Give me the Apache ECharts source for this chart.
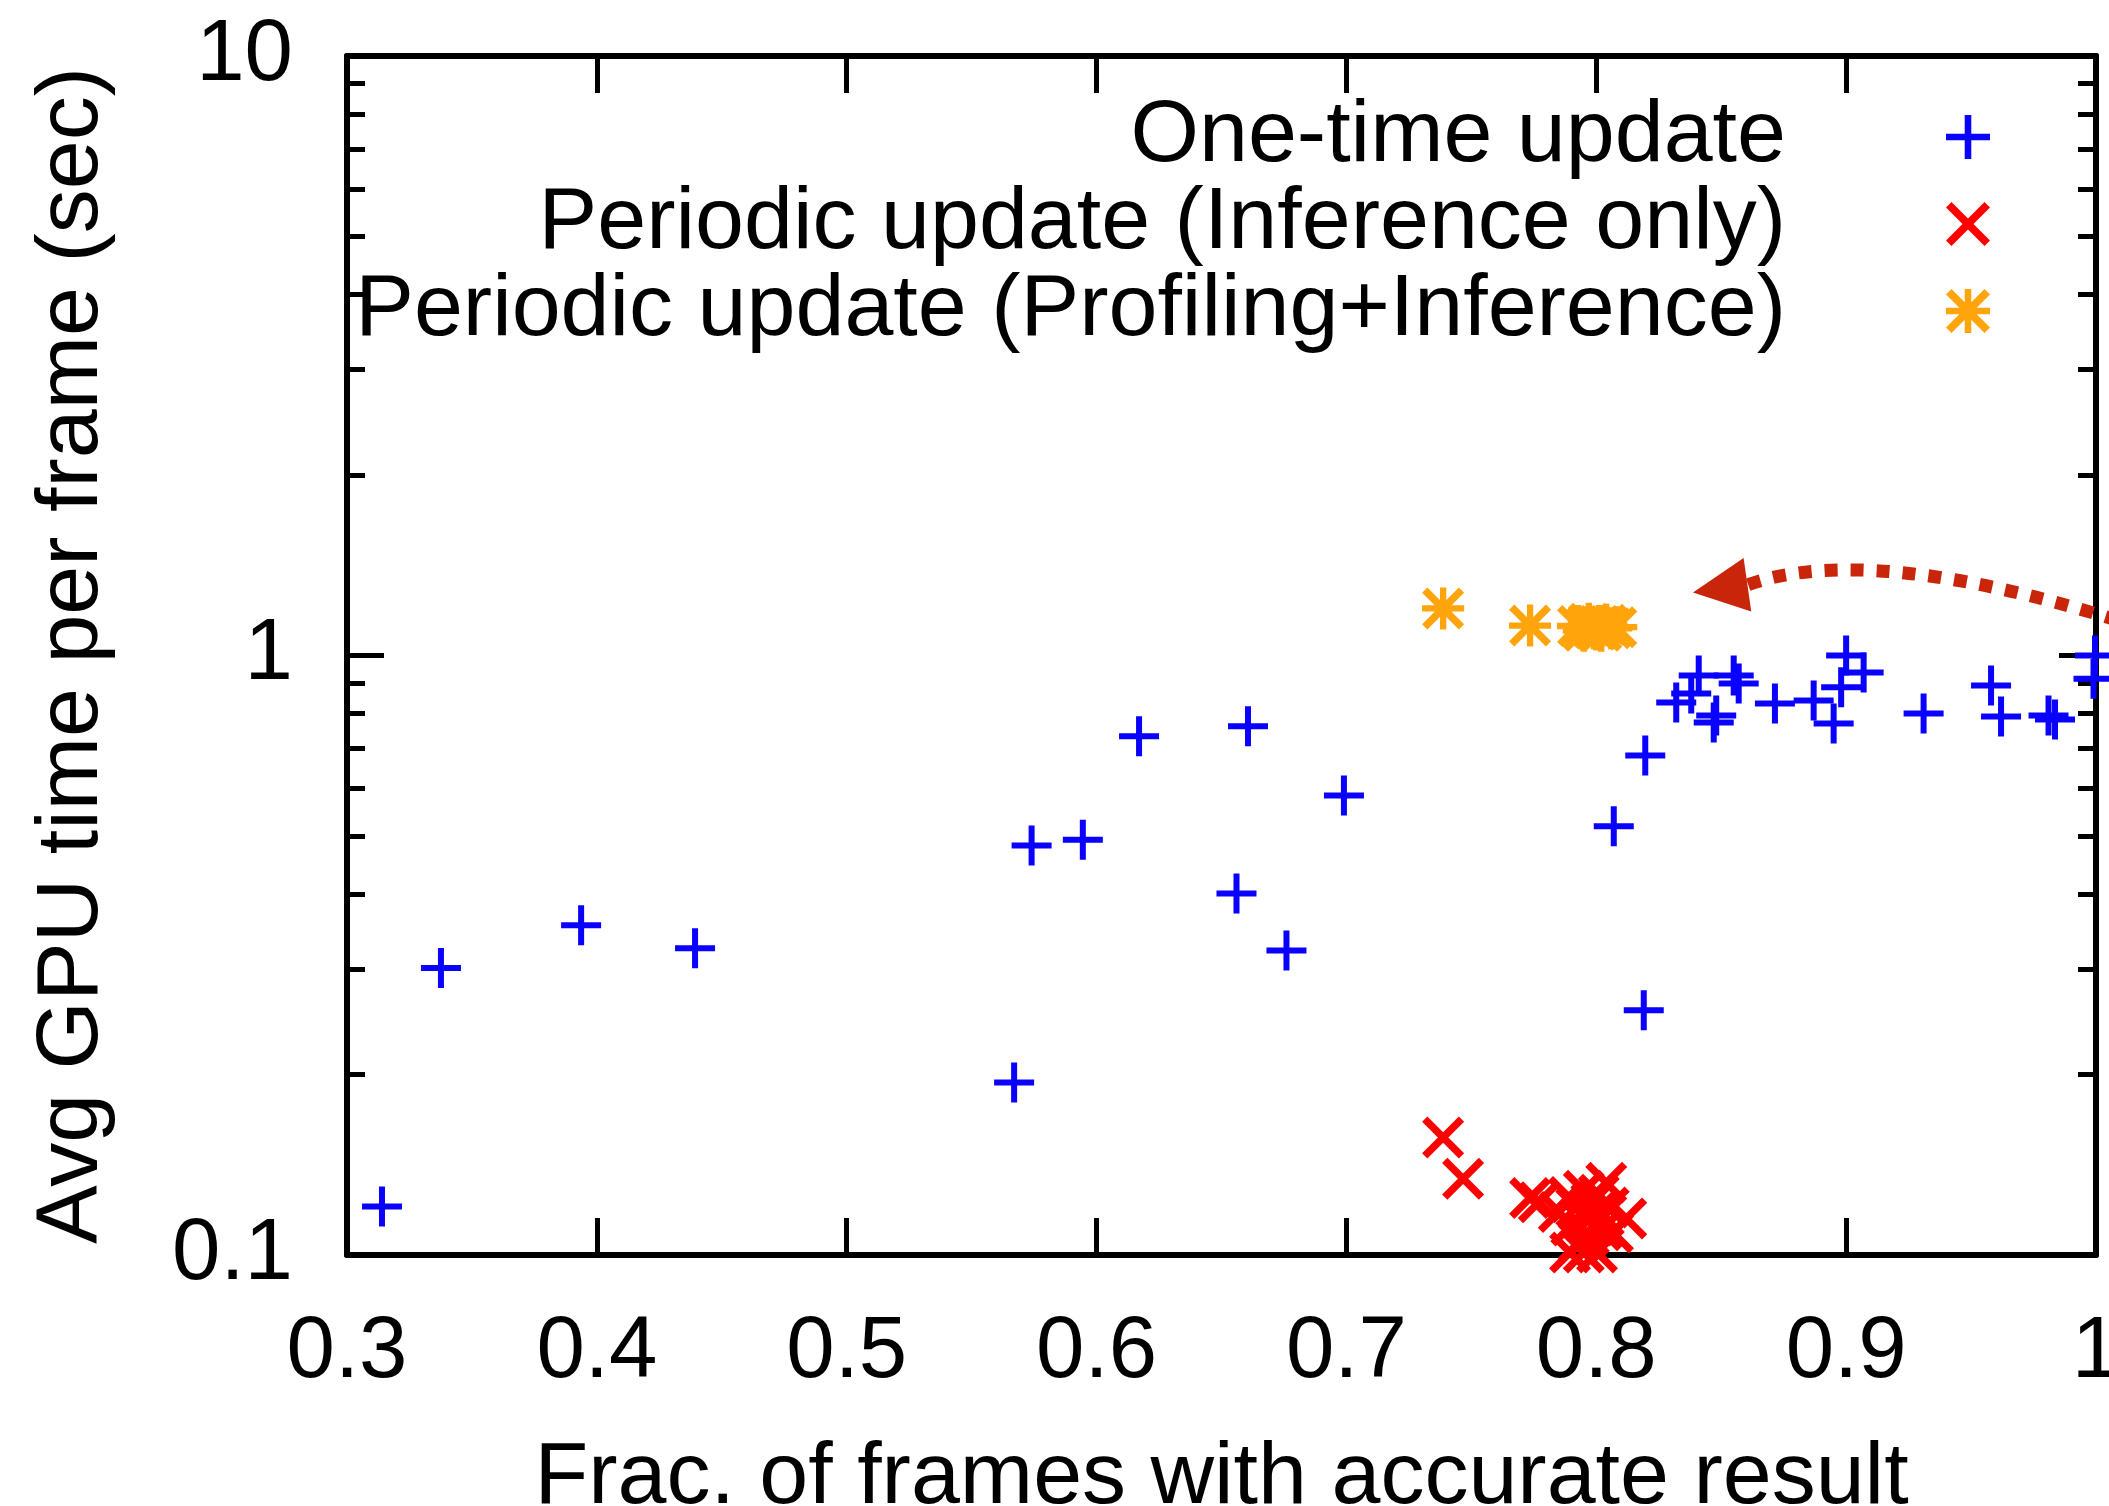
<!DOCTYPE html>
<html><head><meta charset="utf-8">
<script src="https://cdn.jsdelivr.net/npm/echarts@6/dist/echarts.min.js"></script>
<style>html,body{margin:0;padding:0;background:#fff;} #c{width:2109px;height:1506px;}</style>
</head><body><div id="c"></div>
<script>
// ---------- data ----------
const seriesNames = ['One-time update', 'Periodic update (Inference only)', 'Periodic update (Profiling+Inference)'];
const xTickValues = [0.3, 0.4, 0.5, 0.6, 0.7, 0.8, 0.9, 1.0];
const yTickValues = [0.1, 1, 10];
const yMinorTicks = [0.2, 0.3, 0.4, 0.5, 0.6, 0.7, 0.8, 0.9, 2, 3, 4, 5, 6, 7, 8, 9];
const xAxisTitle = 'Frac. of frames with accurate result';
const yAxisTitle = 'Avg GPU time per frame (sec)';

const oneTimeUpdate = [
  [0.314, 0.1205], [0.3376, 0.301], [0.3937, 0.355], [0.4393, 0.325], [0.567, 0.194],
  [0.574, 0.482], [0.5945, 0.493], [0.617, 0.733], [0.656, 0.401], [0.6606, 0.762],
  [0.676, 0.322], [0.699, 0.584], [0.807, 0.519], [0.819, 0.256], [0.8196, 0.681],
  [0.832, 0.835], [0.838, 0.864], [0.841, 0.926], [0.847, 0.773], [0.848, 0.794],
  [0.855, 0.926], [0.857, 0.898], [0.8715, 0.832], [0.887, 0.841], [0.895, 0.770],
  [0.898, 0.885], [0.900, 1.0], [0.907, 0.937], [0.931, 0.800], [0.958, 0.891],
  [0.962, 0.791], [0.981, 0.794], [0.9836, 0.782], [0.9996, 1.0], [0.999, 0.915]
];
const periodicInference = [
  [0.7387, 0.157], [0.7467, 0.134], [0.7735, 0.1245], [0.777, 0.1225], [0.785, 0.118],
  [0.789, 0.125], [0.790, 0.112], [0.792, 0.120], [0.793, 0.105], [0.795, 0.128],
  [0.796, 0.115], [0.797, 0.108], [0.798, 0.122], [0.799, 0.112], [0.800, 0.118],
  [0.8003, 0.101], [0.801, 0.126], [0.802, 0.110], [0.804, 0.132], [0.8067, 0.109],
  [0.812, 0.115], [0.7895, 0.101], [0.795, 0.101], [0.805, 0.120], [0.803, 0.116]
];
const periodicProfiling = [
  [0.7387, 1.198], [0.7735, 1.122], [0.7927, 1.12], [0.795, 1.10], [0.797, 1.13],
  [0.799, 1.11], [0.801, 1.12], [0.802, 1.10], [0.804, 1.125], [0.806, 1.11],
  [0.808, 1.115], [0.796, 1.115], [0.800, 1.105]
];
// annotation arrow (data coordinates): start, control, arrowhead base, tip
const arrowStart = [1.0088, 1.144];
const arrowControl = [0.9091, 1.543];
const arrowBase = [0.8607, 1.313];
const arrowTip = [0.8387, 1.274];

// ---------- styles ----------
const FONT = '"Liberation Sans", Arial, Helvetica, sans-serif';
const PLUS = 'path://M17,0H23V17H40V23H23V40H17V23H0V17H17Z';
const CROSS = 'path://M0,5L5,0L40,35L35,40Z M35,0L40,5L5,40L0,35Z';
const STAR = 'path://M17,0H23V17H40V23H23V40H17V23H0V17H17Z M0,5L5,0L40,35L35,40Z M35,0L40,5L5,40L0,35Z';
const axisLine = {show: true, onZero: false, lineStyle: {color: '#000', width: 6}};
const majorTick = {show: true, inside: true, length: 37, lineStyle: {color: '#000', width: 5}};
const minorTick = {show: true, inside: true, length: 18, lineStyle: {color: '#000', width: 5},
                   customValues: yMinorTicks.map(v => Math.log10(v))};

const chart = echarts.init(document.getElementById('c'), null, {renderer: 'canvas'});
chart.setOption({
  animation: false,
  backgroundColor: '#fff',
  grid: {left: 347, right: 13, top: 56, bottom: 251, containLabel: false, outerBoundsMode: 'none'},
  legend: {
    orient: 'vertical', align: 'right', right: 119, top: 93, padding: 0,
    itemWidth: 44, itemHeight: 44, itemGap: -1, selectedMode: false,
    textStyle: {fontSize: 88, fontFamily: FONT, color: '#000', padding: [0, 155, 0, 0]},
    data: seriesNames
  },
  xAxis: [
    {type: 'value', position: 'bottom', min: 0.3, max: 1.0, interval: 0.1,
     axisLine: axisLine, axisTick: majorTick, splitLine: {show: false},
     axisLabel: {fontSize: 87, fontFamily: FONT, color: '#000', margin: 55,
                 formatter: v => String(xTickValues.find(t => Math.abs(t - v) < 1e-6) ?? v)},
     name: xAxisTitle, nameLocation: 'middle', nameGap: 180,
     nameTextStyle: {fontSize: 88, fontFamily: FONT, color: '#000'}},
    {type: 'value', position: 'top', min: 0.3, max: 1.0, interval: 0.1,
     axisLine: axisLine, axisTick: majorTick, splitLine: {show: false}, axisLabel: {show: false}}
  ],
  yAxis: [
    {type: 'log', logBase: 10, position: 'left', min: 0.1, max: 10,
     axisLine: axisLine, axisTick: majorTick, splitLine: {show: false}, minorTick: {show: false},
     axisLabel: {fontSize: 87, fontFamily: FONT, color: '#000', margin: 54,
                 formatter: v => String(yTickValues.find(t => Math.abs(t - v) / t < 1e-6) ?? v)},
     name: yAxisTitle, nameLocation: 'middle', nameGap: 230,
     nameTextStyle: {fontSize: 88, fontFamily: FONT, color: '#000'}},
    {type: 'value', position: 'left', min: -1, max: 1,
     axisLine: {show: false}, axisTick: minorTick, splitLine: {show: false}, axisLabel: {show: false}},
    {type: 'log', logBase: 10, position: 'right', min: 0.1, max: 10,
     axisLine: axisLine, axisTick: majorTick, splitLine: {show: false}, axisLabel: {show: false}},
    {type: 'value', position: 'right', min: -1, max: 1,
     axisLine: {show: false}, axisTick: minorTick, splitLine: {show: false}, axisLabel: {show: false}}
  ],
  series: [
    {type: 'scatter', name: seriesNames[0], data: oneTimeUpdate, symbol: PLUS, symbolSize: 40,
     itemStyle: {color: '#0a00ff', opacity: 1}, emphasis: {disabled: true}, z: 3},
    {type: 'scatter', name: seriesNames[1], data: periodicInference, symbol: CROSS, symbolSize: 42,
     itemStyle: {color: '#ff0000', opacity: 1}, emphasis: {disabled: true}, z: 4},
    {type: 'scatter', name: seriesNames[2], data: periodicProfiling, symbol: STAR, symbolSize: 42,
     itemStyle: {color: '#ffa40a', opacity: 1}, emphasis: {disabled: true}, z: 5}
  ]
});

// annotation arrow
const px = p => chart.convertToPixel({seriesIndex: 0}, p);
const s = px(arrowStart), c = px(arrowControl), b = px(arrowBase), t = px(arrowTip);
const dx = b[0] - t[0], dy = b[1] - t[1], len = Math.hypot(dx, dy);
const ux = dx / len, uy = dy / len, nx = -uy, ny = ux;
const headLen = 55, headHalf = 27;
const bc = [t[0] + ux * headLen, t[1] + uy * headLen];
chart.setOption({
  graphic: [
    {type: 'bezierCurve', z: 100, silent: true,
     shape: {x1: s[0], y1: s[1], cpx1: c[0], cpy1: c[1], x2: b[0], y2: b[1]},
     style: {stroke: '#c8250b', lineWidth: 13, lineDash: [13, 13], fill: 'none'}},
    {type: 'polygon', z: 100, silent: true,
     shape: {points: [t, [bc[0] + nx * headHalf, bc[1] + ny * headHalf], [bc[0] - nx * headHalf, bc[1] - ny * headHalf]]},
     style: {fill: '#c8250b'}}
  ]
});
</script></body></html>
